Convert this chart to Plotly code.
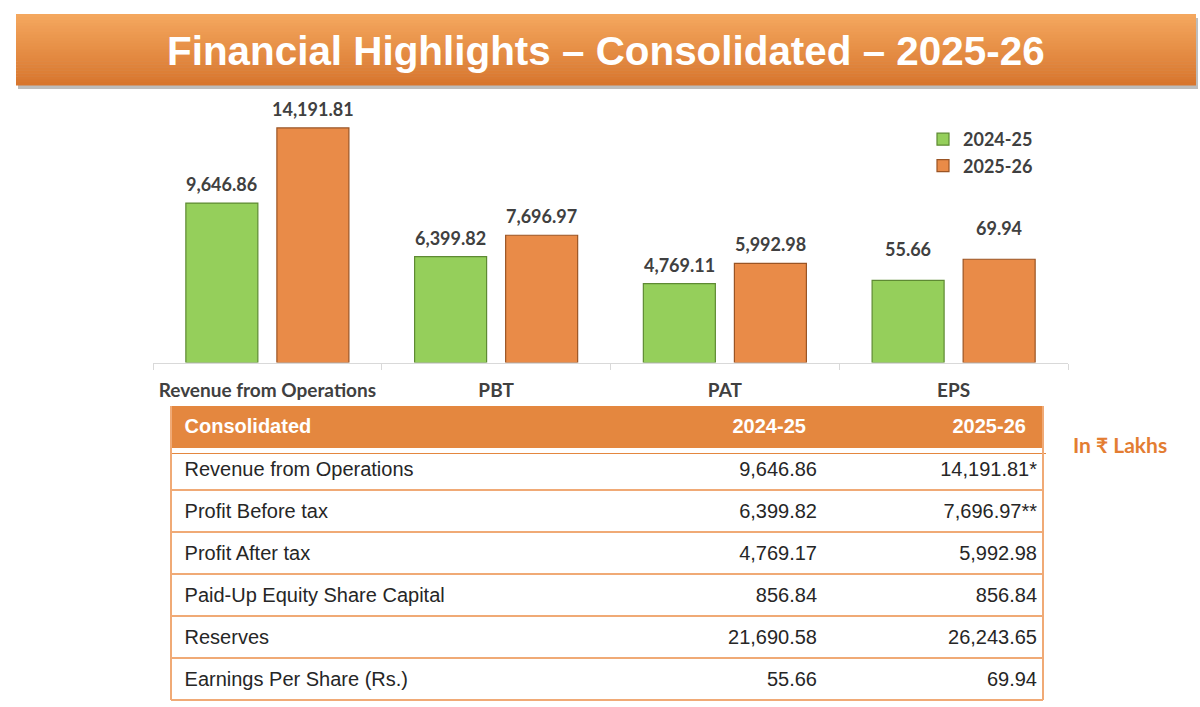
import plotly.graph_objects as go

# ---------------- data ----------------
categories = ["Revenue from Operations", "PBT", "PAT", "EPS"]
series_names = ["2024-25", "2025-26"]
values_2425 = [9646.86, 6399.82, 4769.11, 55.66]
values_2526 = [14191.81, 7696.97, 5992.98, 69.94]

table_header = ["Consolidated", "2024-25", "2025-26"]
table_rows = ["Revenue from Operations", "Profit Before tax", "Profit After tax",
              "Paid-Up Equity Share Capital", "Reserves", "Earnings Per Share (Rs.)"]
table_2425 = ["9,646.86", "6,399.82", "4,769.17", "856.84", "21,690.58", "55.66"]
table_2526 = ["14,191.81*", "7,696.97**", "5,992.98", "856.84", "26,243.65", "69.94"]

title_text = "Financial Highlights \u2013 Consolidated \u2013 2025-26"
unit_text = "In \u20b9 Lakhs"

# ---------------- style ----------------
W, H = 1200, 707
GREEN = "#95CF5B"
GREEN_EDGE = "#5E8A33"
ORANGE = "#E98B48"
ORANGE_EDGE = "#9A5424"
LABEL_COLOR = "#404040"
HEAD_FILL = "#E4873F"
RULE = "#F0AA76"
LBL_FONT = "Lato, 'Noto Sans', sans-serif"
TBL_FONT = "'Liberation Sans', Arial, sans-serif"


def px_x(v):
    return v / W


def px_y(v):
    return 1 - v / H


fig = go.Figure()

n_main = 3  # first three categories on the primary axis, EPS on the secondary
colors = [GREEN, ORANGE]
edges = [GREEN_EDGE, ORANGE_EDGE]
groups = ["a", "b"]
for si, vals in enumerate([values_2425, values_2526]):
    fig.add_trace(go.Bar(
        x=categories[:n_main], y=vals[:n_main], name=series_names[si],
        marker=dict(color=colors[si], line=dict(color=edges[si], width=1.2)),
        offsetgroup=groups[si], alignmentgroup="g", legendgroup=series_names[si],
        yaxis="y", showlegend=True, hoverinfo="skip"))
    fig.add_trace(go.Bar(
        x=categories[n_main:], y=vals[n_main:], name=series_names[si],
        marker=dict(color=colors[si], line=dict(color=edges[si], width=1.2)),
        offsetgroup=groups[si], alignmentgroup="g", legendgroup=series_names[si],
        yaxis="y2", showlegend=False, hoverinfo="skip"))

annotations = []
shifts = [-45.5, 45.5]
for si, vals in enumerate([values_2425, values_2526]):
    for ci, cat in enumerate(categories):
        on_main = ci < n_main
        annotations.append(dict(
            x=cat, y=vals[ci], xref="x", yref="y" if on_main else "y2",
            text=f"{vals[ci]:,.2f}", showarrow=False, xshift=shifts[si],
            yshift=19 if on_main else 31, yanchor="middle",
            font=dict(family=LBL_FONT, size=18, color=LABEL_COLOR, weight="bold")))

# table
nb = "\u00a0"
TBL_TOP, HEAD_H, ROW_H = 407, 46, 42
fig.add_trace(go.Table(
    domain=dict(x=[px_x(171), px_x(1045)], y=[px_y(TBL_TOP + HEAD_H + ROW_H * 6 + 1), px_y(TBL_TOP)]),
    columnwidth=[480, 174, 220],
    header=dict(
        values=[f"<b>{nb}{table_header[0]}</b>",
                f"<b>{table_header[1]}{nb}{nb}</b>",
                f"<b>{table_header[2]}{nb}{nb}</b>"],
        fill_color=HEAD_FILL, line=dict(color=HEAD_FILL, width=1),
        align=["left", "right", "right"], height=HEAD_H,
        font=dict(family=TBL_FONT, size=20, color="white")),
    cells=dict(
        values=[[nb + r for r in table_rows], table_2425, table_2526],
        fill_color="white", line=dict(color="white", width=1),
        align=["left", "right", "right"], height=ROW_H,
        font=dict(family=TBL_FONT, size=20, color="#262626")),
))

shapes = []
# banner with vertical gradient
top_c = (0xF4, 0xA7, 0x5E)
bot_c = (0xD8, 0x76, 0x2E)
b_top, b_bot, b_left, b_right = 14, 85, 16, 1196
shapes.append(dict(type="rect", xref="paper", yref="paper", layer="below",
                   x0=px_x(b_left + 2), x1=px_x(b_right + 2), y0=px_y(b_bot + 4), y1=px_y(b_top + 4),
                   fillcolor="#BDBDBD", line=dict(width=0)))
n_strip = 24
for k in range(n_strip):
    t = k / (n_strip - 1)
    c = tuple(int(round(top_c[j] + (bot_c[j] - top_c[j]) * t)) for j in range(3))
    y0 = b_top + (b_bot - b_top) * k / n_strip
    y1 = b_top + (b_bot - b_top) * (k + 1) / n_strip
    shapes.append(dict(type="rect", xref="paper", yref="paper", layer="below",
                       x0=px_x(b_left), x1=px_x(b_right), y0=px_y(y1 + 0.5), y1=px_y(y0),
                       fillcolor="rgb(%d,%d,%d)" % c, line=dict(width=0)))

# header band (visible part ends at the first rule)
header_bottom, n_rows = 448, len(table_rows)
shapes.append(dict(type="rect", xref="paper", yref="paper", layer="below",
                   x0=px_x(171), x1=px_x(1043), y0=px_y(header_bottom), y1=px_y(406),
                   fillcolor=HEAD_FILL, line=dict(width=0)))
shapes.append(dict(type="rect", xref="paper", yref="paper", layer="above",
                   x0=px_x(170), x1=px_x(1046), y0=px_y(TBL_TOP + HEAD_H), y1=px_y(header_bottom),
                   fillcolor="white", line=dict(width=0)))
shapes.append(dict(type="rect", xref="paper", yref="paper", layer="above",
                   x0=px_x(1043), x1=px_x(1046), y0=px_y(header_bottom), y1=px_y(405),
                   fillcolor="white", line=dict(width=0)))
# table rules
for k in range(1, n_rows + 1):
    yy = header_bottom + ROW_H * k
    shapes.append(dict(type="line", xref="paper", yref="paper", layer="above",
                       x0=px_x(171), x1=px_x(1043), y0=px_y(yy), y1=px_y(yy),
                       line=dict(color=RULE, width=2)))
for xx in (171, 1043):
    shapes.append(dict(type="line", xref="paper", yref="paper", layer="above",
                       x0=px_x(xx), x1=px_x(xx), y0=px_y(406), y1=px_y(header_bottom + ROW_H * n_rows),
                       line=dict(color=RULE, width=2)))

annotations.append(dict(x=px_x(606), y=px_y(51), xref="paper", yref="paper",
                        text=title_text, showarrow=False, xanchor="center", yanchor="middle",
                        font=dict(family=TBL_FONT, size=40.4, color="white", weight="bold")))
annotations.append(dict(x=px_x(1120), y=px_y(444), xref="paper", yref="paper",
                        text=unit_text, showarrow=False, xanchor="center", yanchor="middle",
                        font=dict(family=LBL_FONT, size=21, color="#E37D32", weight="bold")))

fig.update_layout(
    width=W, height=H, margin=dict(l=0, r=0, t=0, b=0),
    paper_bgcolor="white", plot_bgcolor="white",
    barmode="group", bargap=0.204, bargroupgap=0.209,
    xaxis=dict(domain=[px_x(153), px_x(1068)], type="category",
               categoryorder="array", categoryarray=categories,
               showline=True, linecolor="#D9D9D9", linewidth=1,
               ticks="outside", tickson="boundaries", ticklen=6, tickcolor="#D9D9D9",
               ticklabelstandoff=11, showgrid=False, zeroline=False, fixedrange=True,
               tickfont=dict(family=LBL_FONT, size=19, color=LABEL_COLOR, weight="bold")),
    yaxis=dict(domain=[px_y(362.5), px_y(112)], range=[0, 15154], visible=False, fixedrange=True),
    yaxis2=dict(overlaying="y", range=[0, 169.7], visible=False, fixedrange=True),
    legend=dict(x=px_x(923), y=px_y(121), xanchor="left", yanchor="top",
                bgcolor="rgba(0,0,0,0)", borderwidth=0, tracegroupgap=0,
                font=dict(family=LBL_FONT, size=18, color=LABEL_COLOR, weight="bold")),
    shapes=shapes, annotations=annotations,
)

fig.write_html("out.html", config={"displayModeBar": False},
               post_script="document.body.style.margin='0';")
